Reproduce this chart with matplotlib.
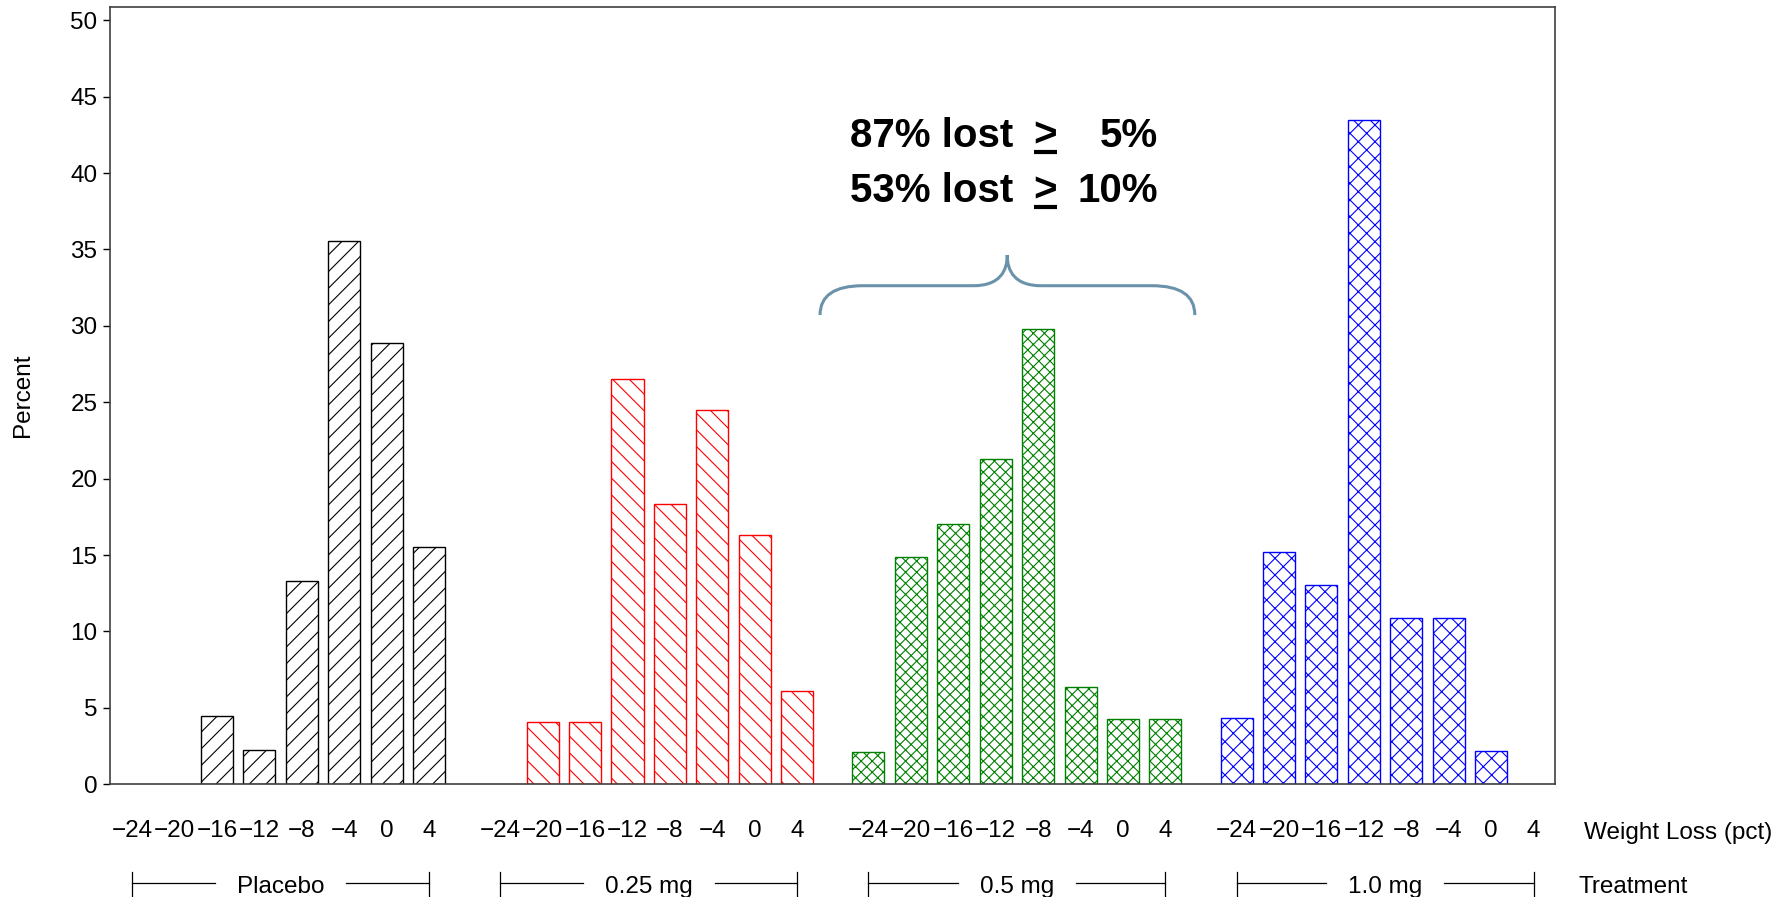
import numpy as np
import matplotlib
matplotlib.use('Agg')
import matplotlib.pyplot as plt
from matplotlib.path import Path
from matplotlib.patches import PathPatch
from matplotlib.lines import Line2D
import matplotlib.transforms as mtransforms

plt.rcParams['font.family'] = ['Liberation Sans', 'DejaVu Sans']
plt.rcParams['hatch.linewidth'] = 0.8

# weight change bins (pct) and the share of patients in each, per arm
weight_bins = [-24, -20, -16, -12, -8, -4, 0, 4]
treatments = ['Placebo', '0.25 mg', '0.5 mg', '1.0 mg']
pct_placebo = [0, 0, 4.44, 2.22, 13.33, 35.56, 28.89, 15.56]
pct_025mg = [0, 4.08, 4.08, 26.53, 18.37, 24.49, 16.33, 6.12]
pct_05mg = [2.13, 14.89, 17.02, 21.28, 29.79, 6.38, 4.26, 4.26]
pct_10mg = [4.35, 15.22, 13.04, 43.48, 10.87, 10.87, 2.17, 0]

series = [pct_placebo, pct_025mg, pct_05mg, pct_10mg]
colors = ['black', 'red', 'green', 'blue']
hatches = ['//', '\\\\', 'xxx', 'xx']

group_step = 8.674   # slots between the first bins of neighbouring arms
bar_width = 0.755
label_size = 17.5

W, H = 1792, 897
fig = plt.figure(figsize=(W / 100, H / 100), dpi=100)
ax = fig.add_axes([110 / W, (H - 784.3) / H, 1445 / W, 777.3 / H])

tick_pos = []
tick_lab = []
for g, (vals, col, hatch) in enumerate(zip(series, colors, hatches)):
    x = g * group_step + np.arange(len(weight_bins))
    vals = np.array(vals, dtype=float)
    keep = vals > 0
    ax.bar(x[keep], vals[keep], width=bar_width, facecolor='white',
           edgecolor=col, hatch=hatch, linewidth=1.0, zorder=2)
    tick_pos.extend(x)
    tick_lab.extend([('\u2212%d' % -b) if b < 0 else str(b) for b in weight_bins])

ax.set_xlim(-0.518, 3 * group_step + 7 + 0.503)
ax.set_ylim(0, 50.87)
ax.set_yticks(range(0, 51, 5))
ax.set_xticks(tick_pos)
ax.set_xticklabels(tick_lab)
ax.tick_params(axis='x', length=0, pad=25.5, labelsize=label_size)
ax.tick_params(axis='y', length=5, width=1, pad=4, labelsize=label_size)
for sp in ax.spines.values():
    sp.set_color('#404040')
    sp.set_linewidth(1.2)

fig.text(23 / W, 1 - 395.6 / H, 'Percent', rotation=90, ha='center',
         va='center', fontsize=label_size)
fig.text(1584 / W, 1 - 839 / H, 'Weight Loss (pct)', ha='left',
         va='baseline', fontsize=label_size)
fig.text(1578 / W, 1 - 893 / H, 'Treatment', ha='left', va='baseline',
         fontsize=label_size)

# treatment labels under each arm with bracket lines
trans = mtransforms.blended_transform_factory(ax.transData, fig.transFigure)
line_y = 1 - 883.3 / H
group_texts = []
for g, name in enumerate(treatments):
    x0 = g * group_step
    x1 = x0 + len(weight_bins) - 1
    t = ax.text((x0 + x1) / 2, 1 - 893 / H, name, transform=trans,
                ha='center', va='baseline', fontsize=label_size, clip_on=False)
    group_texts.append((t, x0, x1))

fig.canvas.draw()
renderer = fig.canvas.get_renderer()
inv = ax.transData.inverted()
for t, x0, x1 in group_texts:
    bb = t.get_window_extent(renderer)
    left = inv.transform((bb.x0 - 22, 0))[0]
    right = inv.transform((bb.x1 + 22, 0))[0]
    for xa, xb in [(x0, left), (right, x1)]:
        ax.add_line(Line2D([xa, xb], [line_y, line_y], transform=trans,
                           color='black', lw=0.9, clip_on=False))
    for xe in (x0, x1):
        ax.add_line(Line2D([xe, xe], [0, 1 - 872 / H], transform=trans,
                           color='black', lw=0.9, clip_on=False))

# brace over the 0.5 mg arm
brace_verts = [
    (16.21, 30.71), (16.21, 32.63), (17.22, 32.63),
    (19.82, 32.63),
    (20.45, 32.63), (20.62, 33.6), (20.62, 34.64),
    (20.62, 33.6), (20.79, 32.63), (21.42, 32.63),
    (24.03, 32.63),
    (25.04, 32.63), (25.04, 30.71),
]
brace_codes = [Path.MOVETO, Path.CURVE3, Path.CURVE3, Path.LINETO,
               Path.CURVE4, Path.CURVE4, Path.CURVE4,
               Path.CURVE4, Path.CURVE4, Path.CURVE4,
               Path.LINETO, Path.CURVE3, Path.CURVE3]
ax.add_patch(PathPatch(Path(brace_verts, brace_codes), facecolor='none',
                       edgecolor='#6a93ab', lw=2.2, zorder=3))

# summary of responders
for lead, tail, base_y, ul_y in [('87% lost', '5%', 41.73, 41.37),
                                 ('53% lost', '10%', 38.13, 37.77)]:
    ax.text(16.91, base_y, lead, fontsize=29, fontweight='bold',
            ha='left', va='baseline')
    ax.text(21.52, base_y, '>', fontsize=29, fontweight='bold',
            ha='center', va='baseline')
    ax.text(24.18, base_y, tail, fontsize=29, fontweight='bold',
            ha='right', va='baseline')
    ax.plot([21.25, 21.79], [ul_y, ul_y], color='black', lw=3,
            solid_capstyle='butt')

fig.savefig('out.png', dpi=100)
plt.close(fig)
